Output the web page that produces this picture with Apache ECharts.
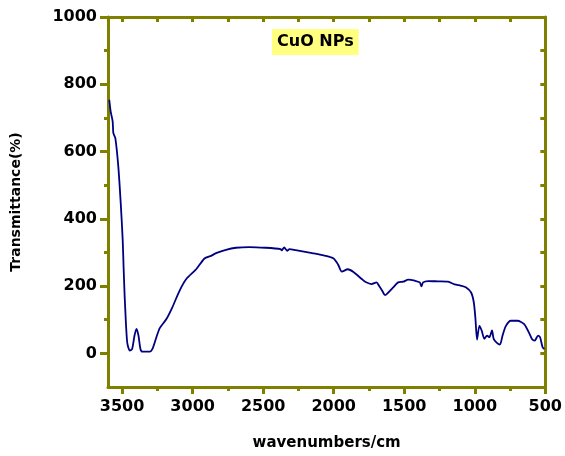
<!DOCTYPE html>
<html lang="en">
<head>
    <meta charset="UTF-8">
    <title>CuO NPs</title>
    <script src="https://cdn.jsdelivr.net/npm/echarts@6/dist/echarts.min.js"></script>
    <style>
        html, body { margin: 0; padding: 0; background: #fff; }
        #chart { width: 565px; height: 456px; }
    </style>
</head>
<body>
<div id="chart"></div>
<script>
    // spectrum (wavenumber, transmittance)
    var wavenumbers = [3591, 3581, 3567, 3562, 3548, 3527, 3510, 3496, 3489, 3485, 3481, 3464, 3445, 3429,
        3412, 3398, 3384, 3370, 3356, 3304, 3285, 3257, 3233, 3186, 3144, 3093, 3045, 2975, 2916, 2869,
        2834, 2764, 2693, 2599, 2482, 2376, 2369, 2351, 2330, 2313, 2270, 2153, 2059, 2001, 1970, 1942,
        1900, 1860, 1801, 1777, 1731, 1696, 1679, 1656, 1636, 1613, 1578, 1543, 1507, 1472, 1425, 1390,
        1378, 1366, 1331, 1261, 1190, 1143, 1097, 1061, 1026, 1007, 995, 984, 967, 951, 932, 913, 897,
        878, 866, 843, 822, 803, 780, 744, 697, 650, 615, 592, 575, 551, 537, 519, 507];
    var transmittance = [754, 719, 690, 655, 640, 556, 448, 339, 250, 205, 161, 33, 8, 13,
        53, 73, 53, 13, 5, 5, 13, 48, 75, 102, 137, 186, 221, 250, 282, 290,
        298, 308, 314, 316, 314, 310, 306, 315, 305, 310, 307, 298, 290, 282, 265, 243,
        250, 242, 221, 213, 206, 211, 201, 186, 173, 181, 196, 211, 213, 219, 216, 211,
        199, 211, 215, 214, 213, 205, 201, 196, 181, 152, 102, 41, 82, 68, 43, 53, 48,
        68, 43, 31, 26, 53, 81, 97, 97, 87, 61, 41, 38, 53, 48, 18, 13];

    var xTicks = [3500, 3000, 2500, 2000, 1500, 1000, 500];
    var xMinorTicks = [3250, 2750, 2250, 1750, 1250, 750];
    var yTicks = [0, 200, 400, 600, 800, 1000];
    var yMinorTicks = [100, 300, 500, 700, 900];

    var spectrum = wavenumbers.map(function (w, i) {
        return [w, transmittance[i]];
    });

    var olive = '#808000';
    var font = 'DejaVu Sans, Verdana, sans-serif';
    var labelFont = {color: '#000', fontWeight: 'bold', fontSize: 16, fontFamily: font,
        formatter: function (v) { return String(v); }};

    var myChart = echarts.init(document.getElementById('chart'));

    var option = {
        animation: false,
        title: {
            text: 'CuO NPs',
            left: 272,
            top: 29,
            padding: [5, 5],
            backgroundColor: '#ffff80',
            textStyle: {color: '#000', fontWeight: 'bold', fontSize: 16, fontFamily: font}
        },
        grid: {left: 108, right: 17, top: 17, bottom: 68},
        xAxis: [{
            type: 'value', inverse: true, min: 500, max: 3600,
            name: 'wavenumbers/cm', nameLocation: 'middle', nameGap: 49,
            nameTextStyle: {color: '#000', fontWeight: 'bold', fontSize: 15, fontFamily: font},
            axisLine: {onZero: false, lineStyle: {color: olive, width: 3}},
            axisTick: {length: 7, lineStyle: {color: olive, width: 3}, customValues: xTicks},
            axisLabel: Object.assign({margin: 12, customValues: xTicks}, labelFont),
            splitLine: {show: false}
        }, {
            type: 'value', inverse: true, min: 500, max: 3600, position: 'bottom',
            axisLine: {show: false, onZero: false},
            axisTick: {length: 4, lineStyle: {color: olive, width: 3}, customValues: xMinorTicks},
            axisLabel: {show: false},
            splitLine: {show: false}
        }, {
            type: 'value', inverse: true, min: 500, max: 3600, position: 'top',
            axisLine: {onZero: false, lineStyle: {color: olive, width: 3}},
            axisTick: {inside: true, length: 5, lineStyle: {color: olive, width: 3}, customValues: xTicks.concat(xMinorTicks)},
            axisLabel: {show: false},
            splitLine: {show: false}
        }],
        yAxis: [{
            type: 'value', min: -100, max: 1000,
            name: 'Transmittance(%)', nameLocation: 'middle', nameGap: 85,
            nameTextStyle: {color: '#000', fontWeight: 'bold', fontSize: 14, fontFamily: font},
            axisLine: {onZero: false, lineStyle: {color: olive, width: 3}},
            axisTick: {length: 8, lineStyle: {color: olive, width: 3}, customValues: yTicks},
            axisLabel: Object.assign({margin: 11, customValues: yTicks}, labelFont),
            splitLine: {show: false}
        }, {
            type: 'value', min: -100, max: 1000, position: 'left',
            axisLine: {show: false, onZero: false},
            axisTick: {length: 4, lineStyle: {color: olive, width: 3}, customValues: yMinorTicks},
            axisLabel: {show: false},
            splitLine: {show: false}
        }, {
            type: 'value', min: -100, max: 1000, position: 'right',
            axisLine: {onZero: false, lineStyle: {color: olive, width: 3}},
            axisTick: {inside: true, length: 5, lineStyle: {color: olive, width: 3}, customValues: yTicks.concat(yMinorTicks)},
            axisLabel: {show: false},
            splitLine: {show: false}
        }],
        series: [{
            type: 'line',
            data: spectrum,
            showSymbol: false,
            smooth: 0.25,
            lineStyle: {color: '#000080', width: 1.8}
        }]
    };

    myChart.setOption(option);
</script>
</body>
</html>
